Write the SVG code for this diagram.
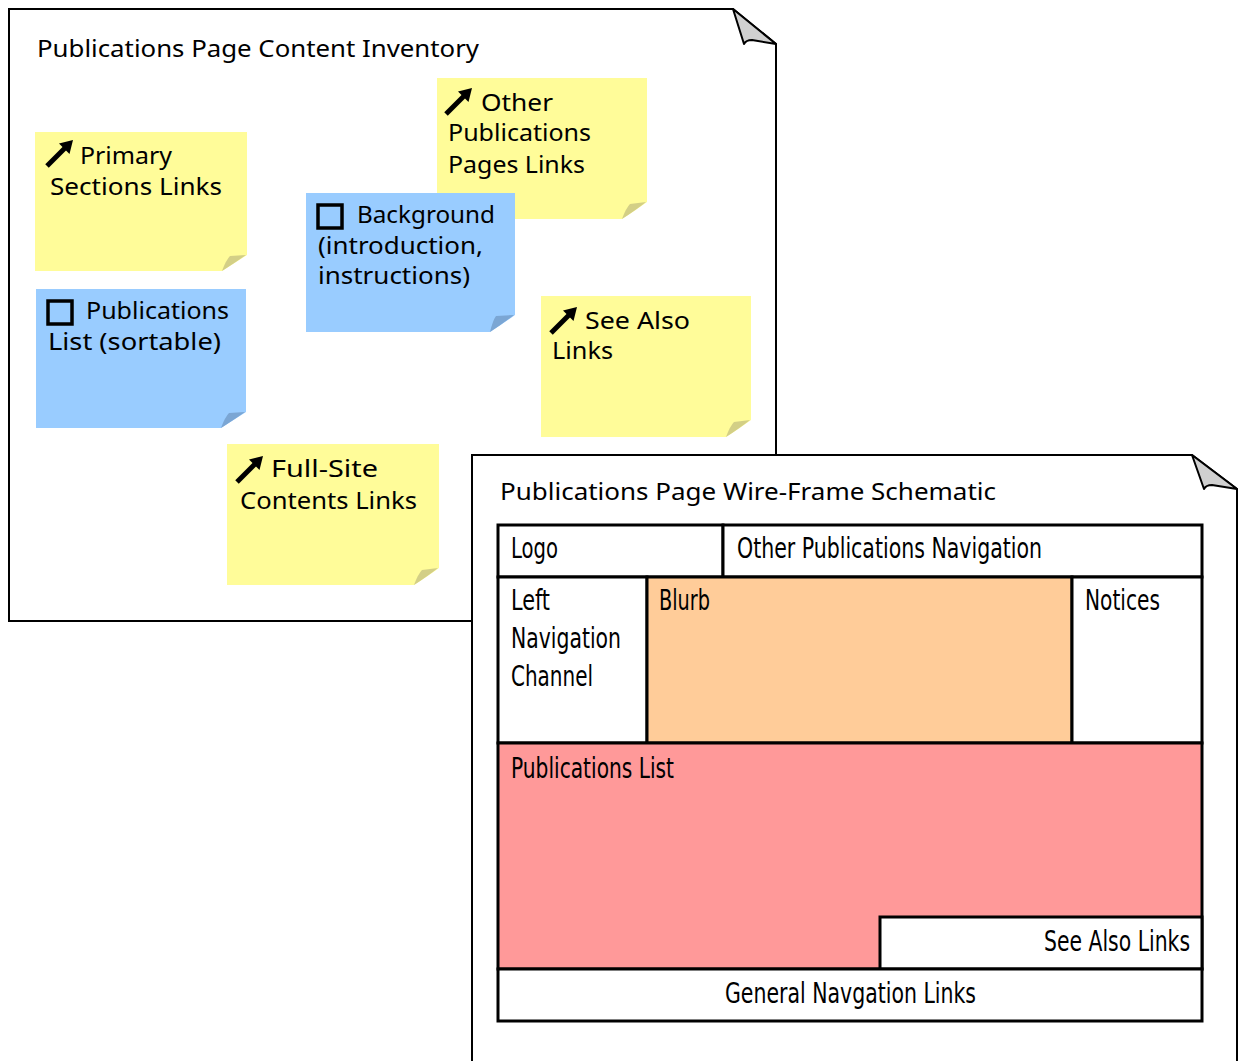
<svg xmlns="http://www.w3.org/2000/svg" width="1239" height="1061" viewBox="0 0 1239 1061">
<style>
.page{fill:#fff;stroke:#000;stroke-width:2}
.fold{fill:#d0d0d0;stroke:#000;stroke-width:2;stroke-linejoin:round}
.title{font-family:"Noto Sans","Liberation Sans",sans-serif;font-size:23px;fill:#000}
.note{font-family:"Noto Sans","Liberation Sans",sans-serif;font-size:23px;fill:#000}
.yel{fill:#fffc99}
.yelf{fill:#d3cf86}
.blu{fill:#99ccff}
.bluf{fill:#7ba6d4}
.box{stroke:#000;stroke-width:3}
.wf{font-family:"Liberation Sans Narrow","DejaVu Sans Condensed",sans-serif;font-stretch:condensed;font-size:28px;fill:#000}
.chk{fill:none;stroke:#000;stroke-width:3.5}
</style>
<defs>
<g id="arrow">
<line x1="-26" y1="26" x2="-8" y2="8" stroke="#000" stroke-width="5"/>
<polygon points="0,0 -14,3.5 -3.5,14" fill="#000"/>
</g>
</defs>

<g id="page-inventory">
<path class="page" d="M9,9 H733 L776,44 V621 H9 Z"/>
<path class="fold" d="M733,9 L744,44 Q746,40 752,40 L776,44 Z"/>
<text class="title" x="37" y="57" textLength="442" lengthAdjust="spacingAndGlyphs">Publications Page Content Inventory</text>
</g>

<g id="note-primary">
<path class="yel" d="M35,132 H247 V255 Q236,262 222,271 H35 Z"/>
<path class="yelf" d="M222,271 Q226,260 230,256 L246,255 Q236,262 222,271 Z"/>
<use href="#arrow" x="73" y="140"/>
<text class="note" x="80" y="164" textLength="92" lengthAdjust="spacingAndGlyphs">Primary</text>
<text class="note" x="50" y="195" textLength="172" lengthAdjust="spacingAndGlyphs">Sections Links</text>
</g>

<g id="note-publist">
<path class="blu" d="M36,289 H246 V412 Q235,419 221,428 H36 Z"/>
<path class="bluf" d="M221,428 Q225,417 229,413 L245,412 Q235,419 221,428 Z"/>
<rect class="chk" x="48" y="301" width="24" height="23"/>
<text class="note" x="86" y="319" textLength="143" lengthAdjust="spacingAndGlyphs">Publications</text>
<text class="note" x="48" y="350" textLength="173" lengthAdjust="spacingAndGlyphs">List (sortable)</text>
</g>

<g id="note-other">
<path class="yel" d="M437,78 H647 V202 Q636,210 622,219 H437 Z"/>
<path class="yelf" d="M622,219 Q626,208 630,204 L646,202 Q636,210 622,219 Z"/>
<use href="#arrow" x="472" y="88"/>
<text class="note" x="481" y="111" textLength="72" lengthAdjust="spacingAndGlyphs">Other</text>
<text class="note" x="448" y="141" textLength="143" lengthAdjust="spacingAndGlyphs">Publications</text>
<text class="note" x="448" y="173" textLength="137" lengthAdjust="spacingAndGlyphs">Pages Links</text>
</g>

<g id="note-background">
<path class="blu" d="M306,193 H515 V315 Q504,323 490,332 H306 Z"/>
<path class="bluf" d="M490,332 Q493,320 496,316 L514,315 Q504,323 490,332 Z"/>
<rect class="chk" x="318" y="205" width="24" height="23"/>
<text class="note" x="357" y="223" textLength="138" lengthAdjust="spacingAndGlyphs">Background</text>
<text class="note" x="318" y="254" textLength="165" lengthAdjust="spacingAndGlyphs">(introduction,</text>
<text class="note" x="318" y="284" textLength="152" lengthAdjust="spacingAndGlyphs">instructions)</text>
</g>

<g id="note-seealso">
<path class="yel" d="M541,296 H751 V420 Q740,428 726,437 H541 Z"/>
<path class="yelf" d="M726,437 Q730,426 734,422 L750,420 Q740,428 726,437 Z"/>
<use href="#arrow" x="577" y="307"/>
<text class="note" x="585" y="329" textLength="105" lengthAdjust="spacingAndGlyphs">See Also</text>
<text class="note" x="552" y="359" textLength="61" lengthAdjust="spacingAndGlyphs">Links</text>
</g>

<g id="note-fullsite">
<path class="yel" d="M227,444 H439 V568 Q428,576 414,585 H227 Z"/>
<path class="yelf" d="M414,585 Q418,574 422,570 L438,568 Q428,576 414,585 Z"/>
<use href="#arrow" x="263" y="456"/>
<text class="note" x="271" y="477" textLength="107" lengthAdjust="spacingAndGlyphs">Full-Site</text>
<text class="note" x="240" y="509" textLength="177" lengthAdjust="spacingAndGlyphs">Contents Links</text>
</g>

<g id="page-schematic">
<path class="page" d="M472,1062 V455 H1192 L1237,489 V1062"/>
<path class="fold" d="M1192,455 L1204,489 Q1206,485 1212,485 L1237,489 Z"/>
<text class="title" x="500" y="500" textLength="496" lengthAdjust="spacingAndGlyphs">Publications Page Wire-Frame Schematic</text>
</g>

<g id="wf-logo">
<rect class="box" x="498" y="525" width="225" height="52" fill="#fff"/>
<text class="wf" x="511" y="558" textLength="47" lengthAdjust="spacingAndGlyphs">Logo</text>
</g>
<g id="wf-othernav">
<rect class="box" x="723" y="525" width="479" height="52" fill="#fff"/>
<text class="wf" x="737" y="558" textLength="305" lengthAdjust="spacingAndGlyphs">Other Publications Navigation</text>
</g>
<g id="wf-leftnav">
<rect class="box" x="498" y="577" width="149" height="166" fill="#fff"/>
<text class="wf" x="511" y="610" textLength="39" lengthAdjust="spacingAndGlyphs">Left</text>
<text class="wf" x="511" y="648" textLength="110" lengthAdjust="spacingAndGlyphs">Navigation</text>
<text class="wf" x="511" y="686" textLength="82" lengthAdjust="spacingAndGlyphs">Channel</text>
</g>
<g id="wf-blurb">
<rect class="box" x="647" y="577" width="425" height="166" fill="#ffcc99"/>
<text class="wf" x="659" y="610" textLength="51" lengthAdjust="spacingAndGlyphs">Blurb</text>
</g>
<g id="wf-notices">
<rect class="box" x="1072" y="577" width="130" height="166" fill="#fff"/>
<text class="wf" x="1085" y="610" textLength="75" lengthAdjust="spacingAndGlyphs">Notices</text>
</g>
<g id="wf-publist">
<rect class="box" x="498" y="743" width="704" height="226" fill="#ff9999"/>
<text class="wf" x="511" y="778" textLength="163" lengthAdjust="spacingAndGlyphs">Publications List</text>
</g>
<g id="wf-seealso">
<rect class="box" x="880" y="917" width="322" height="52" fill="#fff"/>
<text class="wf" x="1190" y="951" text-anchor="end" textLength="146" lengthAdjust="spacingAndGlyphs">See Also Links</text>
</g>
<g id="wf-gennav">
<rect class="box" x="498" y="969" width="704" height="52" fill="#fff"/>
<text class="wf" x="725" y="1003" textLength="251" lengthAdjust="spacingAndGlyphs">General Navgation Links</text>
</g>
</svg>
